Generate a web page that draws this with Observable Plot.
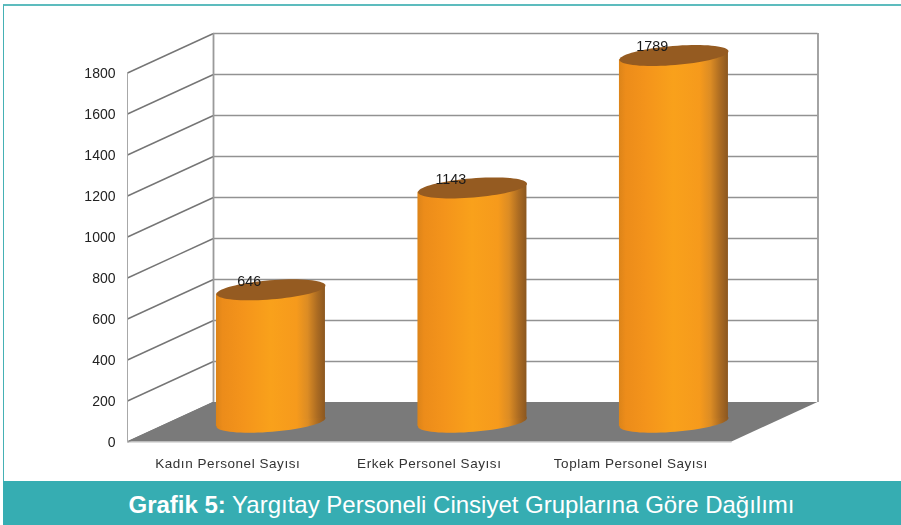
<!DOCTYPE html>
<html lang="tr">
<head>
<meta charset="utf-8">
<script src="https://cdn.jsdelivr.net/npm/d3@7"></script>
<script src="https://cdn.jsdelivr.net/npm/@observablehq/plot@0.6"></script>
<style>
  html, body { margin: 0; padding: 0; background: #fff; overflow: hidden; }
  #page { position: relative; width: 901px; height: 525px; font-family: "Liberation Sans", Arial, sans-serif; filter: blur(0.3px); }
  #chart svg { display: block; }
  #frame { position: absolute; left: 3px; top: 4px; right: 0; height: 477px; box-sizing: border-box;
           border-top: 2px solid #5dbcbe; border-left: 1.5px solid #45b1b5; pointer-events: none; }
  #caption { position: absolute; left: 3px; right: 0; top: 481px; height: 44px; background: #36adb2; color: #fff;
             font-size: 24px; line-height: 47px; text-align: center; padding-left: 19px; box-sizing: border-box; white-space: nowrap; }
  #caption b { font-weight: 700; }
  .cat-label text { letter-spacing: 0.55px; }
</style>
</head>
<body>
<div id="page">
  <div id="chart"></div>
  <div id="frame"></div>
  <div id="caption"><b>Grafik 5:</b> Yargıtay Personeli Cinsiyet Gruplarına Göre Dağılımı</div>
</div>
<script>
const categories = ["Kadın Personel Sayısı", "Erkek Personel Sayısı", "Toplam Personel Sayısı"];
const personnel = [646, 1143, 1789];
const yTicks = [0, 200, 400, 600, 800, 1000, 1200, 1400, 1600, 1800];

const rows = categories.map((name, i) => ({name, slot: i + 0.5, value: personnel[i]}));

// Oblique 3D look: depth of the chart box, in scale units and in pixels
const depthX = 0.4265, depthY = 192.7, backDx = 86, backDy = -39.5;
const midDx = backDx / 2 - 0.3, midDy = backDy / 2;
const halfWidth = 54.5 / 201.5, tilt = 20.5; // cylinder half width (slots), lean of its silhouette (values)

// A leaning ellipse as a custom dot symbol
const disc = {
  draw(ctx) {
    const A = 49.85, B = 22, C = 10.5;
    for (let k = 0; k <= 72; ++k) {
      const t = k / 72 * 2 * Math.PI;
      const x = A * Math.cos(t) - B * Math.sin(t), y = C * Math.sin(t);
      k ? ctx.lineTo(x, y) : ctx.moveTo(x, y);
    }
    ctx.closePath();
  }
};

const gradient = () => {
  const defs = d3.create("svg:defs");
  const g = defs.append("linearGradient").attr("id", "barrel").attr("x1", 0).attr("x2", 1).attr("y1", 0).attr("y2", 0);
  [[0, "#dc8419"], [0.06, "#ec8c1a"], [0.25, "#f4941b"], [0.5, "#f9a11b"], [0.74, "#f69a1c"],
   [0.84, "#dc8c24"], [0.93, "#ab6b22"], [1, "#8b5720"]]
    .forEach(([o, c]) => g.append("stop").attr("offset", o).attr("stop-color", c));
  return defs.node();
};

const floor = [
  {x: 0, y1: 0, y2: 0},
  {x: depthX, y1: 0, y2: depthY},
  {x: 3, y1: 0, y2: depthY},
  {x: 3 + depthX, y1: depthY, y2: depthY}
];

const bodyEdges = rows.flatMap(r => [
  {name: r.name, x: r.slot - halfWidth, y1: -tilt, y2: r.value - tilt},
  {name: r.name, x: r.slot + halfWidth, y1: tilt, y2: r.value + tilt}
]);

const plot = Plot.plot({
  width: 901, height: 481,
  marginLeft: 127, marginRight: 169.5, marginTop: 72.5, marginBottom: 39.5,
  style: {fontFamily: "Liberation Sans, Arial, sans-serif", background: "transparent"},
  x: {domain: [0, 3], axis: null},
  y: {domain: [0, 1800]},
  marks: [
    gradient,
    Plot.axisY(yTicks, {tickSize: 0, tickPadding: 12, label: null, fontSize: 14, fill: "#222", dy: 1, tickFormat: d => String(d)}),
    // side wall: oblique lines and front post
    Plot.link(yTicks, {x1: 0, x2: depthX, y1: d => d, y2: d => d + depthY, stroke: "#757575", strokeWidth: 1.4}),
    Plot.ruleX([0], {y1: 0, y2: 1800, stroke: "#a8a8a8", strokeWidth: 1}),
    // floor
    Plot.areaY(floor, {x: "x", y1: "y1", y2: "y2", fill: "#7a7a7a"}),
    Plot.ruleY([0], {x1: 0, x2: 3, stroke: "#bdbdbd", strokeWidth: 1}),
    // back wall
    Plot.ruleY(yTicks.slice(1), {x1: 0, x2: 3, dx: backDx, dy: backDy, stroke: "#929292", strokeWidth: 1.7}),
    Plot.ruleX([0, 3], {y1: 0, y2: 1800, dx: backDx, dy: backDy, stroke: "#9a9a9a", strokeWidth: 1.8}),
    // cylinders
    Plot.dot(rows, {x: "slot", y: 0, symbol: disc, fill: "url(#barrel)", stroke: "none", dx: midDx, dy: midDy}),
    Plot.areaY(bodyEdges, {x: "x", y1: "y1", y2: "y2", z: "name", fill: "url(#barrel)", dx: midDx, dy: midDy}),
    Plot.dot(rows, {x: "slot", y: "value", symbol: disc, fill: "#955b21", stroke: "none", dx: midDx, dy: midDy}),
    // value labels
    Plot.text(rows, {x: "slot", y: "value", text: d => String(d.value), dx: 21, dy: -28.5, fontSize: 14.3, fill: "#1a1a1a"}),
    // category labels
    Plot.text(rows, {x: "slot", y: 0, text: "name", dx: -0.5, dy: 22, fontSize: 13.5, fill: "#333", className: "cat-label"})
  ]
});
document.getElementById("chart").append(plot);
</script>
</body>
</html>
